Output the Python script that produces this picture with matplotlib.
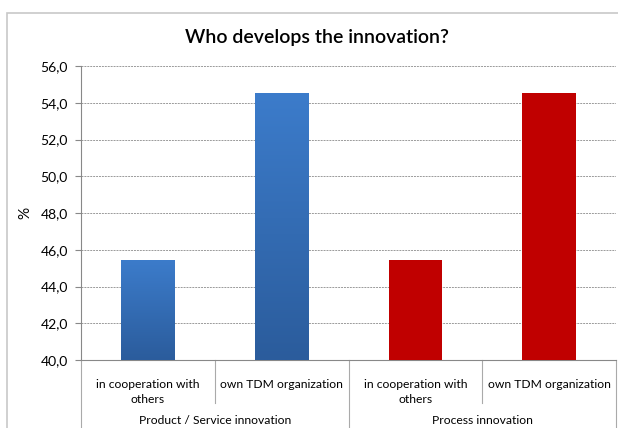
import numpy as np
import matplotlib
matplotlib.use("Agg")
import matplotlib.pyplot as plt
from matplotlib.colors import LinearSegmentedColormap
from matplotlib.patches import Rectangle

plt.rcParams["font.family"] = ["Lato", "DejaVu Sans"]

title = "Who develops the innovation?"
categories = ["in cooperation with\nothers", "own TDM organization",
              "in cooperation with\nothers", "own TDM organization"]
groups = ["Product / Service innovation", "Process innovation"]
values = [45.45, 54.55, 45.45, 54.55]
bar_kind = ["blue", "blue", "red", "red"]
yticks = np.arange(40, 56.1, 2)

W, H = 618, 428
fig = plt.figure(figsize=(W / 100, H / 100), dpi=100)

# outer chart frame (runs off right/bottom like the original)
fig.patches.append(Rectangle((7 / W, -0.05), 1.0, (H - 13) / H + 0.05,
                             transform=fig.transFigure, fill=False,
                             ec="#c8c8c8", lw=1.2))

ax = fig.add_axes([81 / W, (H - 360) / H, 535 / W, 294 / H])
x = np.arange(len(values))
bars = ax.bar(x, values, width=0.4, color=["#3a78c6" if k == "blue" else "#c00000" for k in bar_kind],
              zorder=3)

blue_cmap = LinearSegmentedColormap.from_list("bl", ["#2b5c9c", "#3c7ccb"])
for b, k in zip(bars, bar_kind):
    if k != "blue":
        continue
    x0, w, h = b.get_x(), b.get_width(), b.get_height()
    grad = np.linspace(0, 1, 256).reshape(-1, 1)
    im = ax.imshow(grad, cmap=blue_cmap, origin="lower", aspect="auto",
                   extent=[x0, x0 + w, 40, h], zorder=3)
    im.set_clip_path(b)

ax.set_xlim(-0.5, len(values) - 0.5)
ax.set_ylim(40, 56)
ax.set_yticks(yticks)
ax.set_yticklabels([f"{v:.1f}".replace(".", ",") for v in yticks], fontsize=10)
ax.yaxis.grid(True, ls=(0, (2, 1)), color="#9a9a9a", lw=0.7, zorder=0)
ax.set_ylabel("%", fontsize=11)
ax.yaxis.set_label_coords(-49 / 535, 0.5)
ax.tick_params(axis="y", length=4, color="#888888", pad=5.5)
ax.set_xticks([])
for s in ["top", "right"]:
    ax.spines[s].set_visible(False)
ax.spines["left"].set_color("#888888")
ax.spines["bottom"].set_color("#888888")

trans = ax.get_xaxis_transform()
for i, lab in enumerate(categories):
    ax.text(x[i], -0.064, lab, transform=trans, ha="center", va="top",
            fontsize=8.7, linespacing=1.5)
for g, lab in enumerate(groups):
    ax.text(2 * g + 0.5, -0.205, lab, transform=trans, ha="center", va="center", fontsize=8.7)

# category separators
for xv in [0.5, 2.5]:
    ax.plot([xv, xv], [0, -0.146], transform=trans, color="#aaaaaa", lw=0.8, clip_on=False)
for xv in [-0.5, 1.5, 3.5]:
    ax.plot([xv, xv], [0, -0.25], transform=trans, color="#aaaaaa", lw=0.8, clip_on=False)

fig.text(317 / W, 1 - 38 / H, title, ha="center", va="center", fontsize=14, fontweight="semibold")

fig.savefig("out.png", dpi=100)
